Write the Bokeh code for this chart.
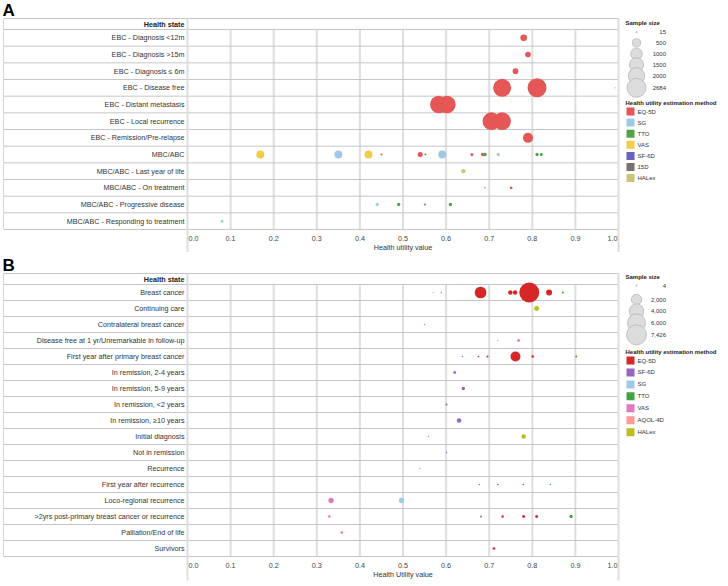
import math
from bokeh.plotting import figure
from bokeh.models import Range1d, ColumnDataSource
from bokeh.layouts import column, row
from bokeh.transform import factor_cmap
from bokeh.core.properties import value
from bokeh.embed import file_html
from bokeh.resources import INLINE

FONT = "Liberation Sans"

# ---------------- Panel A data ----------------
A_states = ["EBC - Diagnosis <12m", "EBC - Diagnosis >15m", "EBC - Diagnosis \u2264 6m",
            "EBC - Disease free", "EBC - Distant metastasis", "EBC - Local recurrence",
            "EBC - Remission/Pre-relapse", "MBC/ABC", "MBC/ABC - Last year of life",
            "MBC/ABC - On treatment", "MBC/ABC - Progressive disease",
            "MBC/ABC - Responding to treatment"]
A_methods = ["EQ-5D", "SG", "TTO", "VAS", "SF-6D", "15D", "HALex"]
A_colors = ["#e45756", "#9ecae9", "#4ea447", "#f1cb4a", "#6a5fc4", "#79706e", "#c9c776"]
A_size_values = [15, 500, 1000, 1500, 2000, 2684]
A_size_labels = ["15", "500", "1000", "1500", "2000", "2684"]
A_pt_state = (["EBC - Diagnosis <12m", "EBC - Diagnosis >15m", "EBC - Diagnosis \u2264 6m"]
              + ["EBC - Disease free"] * 3 + ["EBC - Distant metastasis"] * 2
              + ["EBC - Local recurrence"] * 2 + ["EBC - Remission/Pre-relapse"]
              + ["MBC/ABC"] * 13 + ["MBC/ABC - Last year of life"]
              + ["MBC/ABC - On treatment"] * 2 + ["MBC/ABC - Progressive disease"] * 4
              + ["MBC/ABC - Responding to treatment"])
A_pt_value = [0.780, 0.790, 0.761,
              0.730, 0.811, 0.992, 0.583, 0.602, 0.705, 0.730, 0.790,
              0.169, 0.350, 0.420, 0.450, 0.540, 0.552, 0.591, 0.660, 0.685, 0.690, 0.721, 0.811, 0.821,
              0.640, 0.690, 0.751, 0.440, 0.490, 0.551, 0.610, 0.080]
A_pt_method = ["EQ-5D", "EQ-5D", "EQ-5D",
               "EQ-5D", "EQ-5D", "SG", "EQ-5D", "EQ-5D", "EQ-5D", "EQ-5D", "EQ-5D",
               "VAS", "SG", "VAS", "EQ-5D", "EQ-5D", "EQ-5D", "SG", "EQ-5D", "EQ-5D", "TTO", "SG", "TTO", "TTO",
               "HALex", "EQ-5D", "EQ-5D", "SG", "TTO", "EQ-5D", "TTO", "SG"]
A_pt_n = [330, 240, 240,
          2400, 2684, 15, 2250, 2250, 2300, 2300, 750,
          476, 476, 476, 30, 186, 30, 476, 67, 100, 100, 80, 80, 67,
          138, 17, 54, 80, 80, 30, 91, 67]

# ---------------- Panel B data ----------------
B_states = ["Breast cancer", "Continuing care", "Contralateral breast cancer",
            "Disease free at 1 yr/Unremarkable in follow-up", "First year after primary breast cancer",
            "In remission, 2-4 years", "In remission, 5-9 years", "In remission, <2 years",
            "In remission, \u226510 years", "Initial diagnosis", "Not in remission", "Recurrence",
            "First year after recurrence", "Loco-regional recurrence",
            ">2yrs post-primary breast cancer or recurrence", "Palliation/End of life", "Survivors"]
B_methods = ["EQ-5D", "SF-6D", "SG", "TTO", "VAS", "AQOL-4D", "HALex"]
B_colors = ["#d62728", "#9467bd", "#9ecae9", "#45a145", "#e377c2", "#ff9896", "#bcbd22"]
B_size_values = [4, 2000, 4000, 6000, 7426]
B_size_labels = ["4", "2,000", "4,000", "6,000", "7,426"]
B_pt_state = (["Breast cancer"] * 8 + ["Continuing care", "Contralateral breast cancer"]
              + ["Disease free at 1 yr/Unremarkable in follow-up"] * 2
              + ["First year after primary breast cancer"] * 6
              + ["In remission, 2-4 years", "In remission, 5-9 years", "In remission, <2 years",
                 "In remission, \u226510 years"]
              + ["Initial diagnosis"] * 2 + ["Not in remission", "Recurrence"]
              + ["First year after recurrence"] * 4 + ["Loco-regional recurrence"] * 2
              + [">2yrs post-primary breast cancer or recurrence"] * 6
              + ["Palliation/End of life", "Survivors"])
B_pt_value = [0.570, 0.589, 0.680, 0.749, 0.760, 0.793, 0.839, 0.871,
              0.810, 0.550,
              0.720, 0.768,
              0.638, 0.675, 0.696, 0.761, 0.801, 0.902,
              0.620, 0.640, 0.601, 0.630,
              0.559, 0.780, 0.601, 0.539,
              0.677, 0.720, 0.779, 0.842,
              0.333, 0.4965,
              0.329, 0.681, 0.731, 0.780, 0.810, 0.890,
              0.358, 0.711]
B_pt_method = ["SG", "VAS", "EQ-5D", "EQ-5D", "EQ-5D", "EQ-5D", "EQ-5D", "TTO",
               "HALex", "VAS",
               "AQOL-4D", "VAS",
               "SF-6D", "EQ-5D", "EQ-5D", "EQ-5D", "EQ-5D", "TTO",
               "SF-6D", "SF-6D", "SF-6D", "SF-6D",
               "VAS", "HALex", "SF-6D", "VAS",
               "SF-6D", "EQ-5D", "EQ-5D", "TTO",
               "VAS", "SG",
               "VAS", "SF-6D", "EQ-5D", "EQ-5D", "EQ-5D", "TTO",
               "VAS", "EQ-5D"]
B_pt_n = [42, 42, 2540, 376, 376, 7426, 668, 74,
          464, 42,
          42, 167,
          42, 54, 74, 1856, 116, 74,
          167, 227, 74, 376,
          42, 376, 27, 27,
          42, 42, 42, 42,
          520, 520,
          116, 74, 116, 167, 167, 200,
          135, 135]

TICKS = [0.0, 0.1, 0.2, 0.3, 0.4, 0.5, 0.6, 0.7, 0.8, 0.9, 1.0]
TICK_LABELS = ["0.0", "0.1", "0.2", "0.3", "0.4", "0.5", "0.6", "0.7", "0.8", "0.9", "1.0"]

# ---------------- layout constants (pixels) ----------------
MAIN_W = 620
LEG_W = 108
X0 = 187.0      # canvas x of value 0
PPU = 431.0     # pixels per unit of utility
LEFT_EDGE = 3.0
HEADER_PX = 11.0
AXIS_PX = 24.0
LBL = "7.2px"
GRID = "#dedede"
RULE = "#c6c6c6"
TXT = "#333333"


def dia(n, k):
    return max(k * math.sqrt(n), 1.3)


def build_panel(letter, states, methods, colors, pt_state, pt_value, pt_method, pt_n,
                k, axis_title, fig_h, table_top, row_h):
    n = len(states)
    hdr = HEADER_PX / row_h
    top = -hdr - table_top / row_h
    bottom = top + fig_h / row_h
    xs = -X0 / PPU
    xe = (MAIN_W - X0) / PPU
    x_left = (LEFT_EDGE - X0) / PPU
    p = figure(width=MAIN_W, height=fig_h, x_range=Range1d(xs, xe), y_range=Range1d(bottom, top),
               x_axis_type=None, y_axis_type=None, output_backend="svg", toolbar_location=None,
               min_border=0, outline_line_color=None)
    idx = {s: i for i, s in enumerate(states)}
    ext = n + AXIS_PX / row_h

    # vertical gridlines
    inner = TICKS[1:-1]
    p.segment(x0=inner, y0=[0] * len(inner), x1=inner, y1=[n] * len(inner),
              line_color=GRID, line_width=2)
    # row rules
    ys = [-hdr] + list(range(n + 1))
    p.segment(x0=[x_left] * len(ys), y0=ys, x1=[1.0] * len(ys), y1=ys,
              line_color=RULE, line_width=1)
    # column separator and right border
    p.segment(x0=[0.0, 1.0], y0=[-hdr, -hdr], x1=[0.0, 1.0], y1=[ext, ext],
              line_color=GRID, line_width=2)
    # left border
    p.segment(x0=[x_left], y0=[-hdr], x1=[x_left], y1=[n], line_color="#d4d4d4", line_width=1)

    # row labels
    p.text(x=[0.0] * n, y=[i + 0.5 for i in range(n)], text=states, x_offset=-3,
           text_align="right", text_baseline="middle", text_font=value(FONT),
           text_font_size=LBL, text_color=TXT)
    p.text(x=[0.0], y=[-hdr / 2], text=["Health state"], x_offset=-3, text_align="right",
           text_baseline="middle", text_font=value(FONT), text_font_size=LBL,
           text_font_style="bold", text_color="#222222")

    # tick labels
    tk = dict(y_offset=8.7, text_baseline="middle", text_font=value(FONT),
              text_font_size=LBL, text_color="#444444")
    p.text(x=TICKS[:1], y=[n], text=TICK_LABELS[:1], x_offset=1, text_align="left", **tk)
    p.text(x=TICKS[1:-1], y=[n] * (len(TICKS) - 2), text=TICK_LABELS[1:-1], text_align="center", **tk)
    p.text(x=TICKS[-1:], y=[n], text=TICK_LABELS[-1:], x_offset=-1, text_align="right", **tk)
    p.text(x=[0.5], y=[n], text=[axis_title], y_offset=18.3, text_align="center",
           text_baseline="middle", text_font=value(FONT), text_font_size=LBL, text_color=TXT)

    # panel letter
    p.text(x=[x_left], y=[-hdr], text=[letter], x_offset=-1, y_offset=-8.5, text_align="left",
           text_baseline="middle", text_font=value(FONT), text_font_size="17px",
           text_font_style="bold", text_color="#000000")

    src = ColumnDataSource(dict(x=pt_value, y=[idx[s] + 0.5 for s in pt_state], method=pt_method,
                                size=[dia(v, k) for v in pt_n]))
    p.scatter("x", "y", size="size", source=src, marker="circle",
              fill_color=factor_cmap("method", colors, methods), line_color=None)
    return p


def build_legend(methods, colors, size_vals, size_labels, k, fig_h, page_top,
                 size_title_y, size_ys, color_title_y, color_y0, color_dy):
    lg = figure(width=LEG_W, height=fig_h, x_range=Range1d(MAIN_W, MAIN_W + LEG_W),
                y_range=Range1d(page_top + fig_h, page_top), x_axis_type=None, y_axis_type=None,
                output_backend="svg", toolbar_location=None, min_border=0, outline_line_color=None)
    tf = dict(text_font=value(FONT), text_baseline="middle")
    lg.text(x=[625], y=[size_title_y], text=["Sample size"], text_font_size="6px",
            text_font_style="bold", text_color="#222222", **tf)
    lg.scatter(x=[636] * len(size_vals), y=size_ys, size=[dia(v, k) for v in size_vals],
               marker="circle", fill_color="#dcdcdc", line_color="#b0b0b0", line_width=0.7)
    lg.text(x=[665.5] * len(size_vals), y=size_ys, text=size_labels, text_align="right",
            text_font_size="6px", text_color=TXT, **tf)
    lg.text(x=[625], y=[color_title_y], text=["Health utility estimation method"],
            text_font_size="6px", text_font_style="bold", text_color="#222222", **tf)
    cy = [color_y0 + i * color_dy for i in range(len(methods))]
    lg.scatter(x=[630] * len(methods), y=cy, size=8, marker="square", fill_color=colors,
               line_color=None)
    lg.text(x=[637] * len(methods), y=cy, text=methods, text_font_size="6px",
            text_color=TXT, **tf)
    return lg


A_H, B_H = 252, 334
A_TOP, B_TOP = 18.0, 21.0
A_ROW = 200.0 / len(A_states)
B_ROW = 272.0 / len(B_states)
kA = 19 / math.sqrt(max(A_size_values))
kB = 20 / math.sqrt(max(B_size_values))

pA = build_panel("A", A_states, A_methods, A_colors, A_pt_state, A_pt_value, A_pt_method, A_pt_n,
                 kA, "Health utility value", A_H, A_TOP, A_ROW)
lA = build_legend(A_methods, A_colors, A_size_values, A_size_labels, kA,
                  A_H, 0, 22.7, [31.7, 42.3, 53.3, 64.3, 75.3, 87.3], 102.3, 111.0, 11.1)
pB = build_panel("B", B_states, B_methods, B_colors, B_pt_state, B_pt_value, B_pt_method, B_pt_n,
                 kB, "Health Utility value", B_H, B_TOP, B_ROW)
lB = build_legend(B_methods, B_colors, B_size_values, B_size_labels, kB,
                  B_H, A_H, 276.5, [285, 299, 310.7, 322.3, 334.3], 351, 360, 11.95)

layout = column(row(pA, lA), row(pB, lB))
open("out.html", "w").write(file_html(layout, INLINE))
